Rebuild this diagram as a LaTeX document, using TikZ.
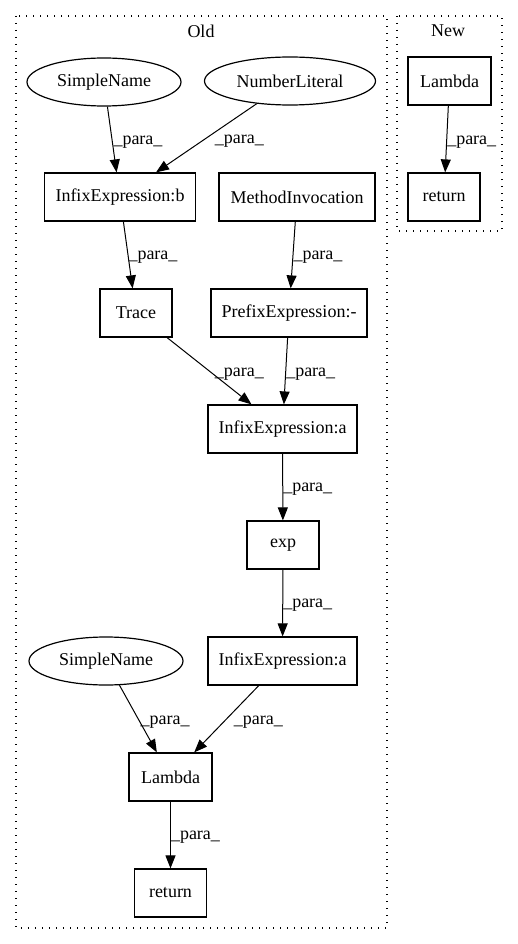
\documentclass[tikz,border=0pt]{standalone}
\usepackage{fontspec}
\setmainfont{Liberation Serif}
\usetikzlibrary{shapes.geometric,arrows.meta}
\begin{document}
\begin{tikzpicture}[x=1pt,y=-1pt,
  box/.style={draw,line width=1.2pt,rectangle,minimum height=48pt,inner sep=0pt,font=\fontsize{18}{20}\selectfont},
  ell/.style={draw,line width=1.2pt,ellipse,minimum height=48pt,inner sep=0pt,font=\fontsize{18}{20}\selectfont},
  cluster/.style={draw,line width=1.2pt,dash pattern=on 1.4pt off 5.6pt},
  ctitle/.style={font=\fontsize{18}{20}\selectfont,inner sep=0pt},
  lbl/.style={font=\fontsize{18}{20}\selectfont,inner sep=0pt,anchor=west,pos=0.5},
  arr/.style={line width=1pt,-{Triangle[length=13pt,width=10pt]}}]
\useasboundingbox (0,0) rectangle (517,944);
% clusters
\draw[cluster] (16,16) rectangle (387,928);
\draw[cluster] (397,16) rectangle (502,231);
\node[ctitle] (tOld) at (201,31) {Old};
\node[ctitle] (tNew) at (448,31) {New};
% Old nodes
\node[ell,minimum width=154pt] (sn1) at (104,82) {SimpleName};
\node[ell,minimum width=171pt] (nl) at (290,81) {NumberLiteral};
\node[box,minimum width=151pt] (ib) at (120,197) {InfixExpression:b};
\node[box,minimum width=156pt] (mi) at (297,197) {MethodInvocation};
\node[box,minimum width=72pt] (tr) at (136,313) {Trace};
\node[box,minimum width=156pt] (pe) at (289,313) {PrefixExpression:-};
\node[box,minimum width=149pt] (ia1) at (282.5,429) {InfixExpression:a};
\node[box,minimum width=72pt] (ex) at (283,545) {exp};
\node[box,minimum width=149pt] (ia2) at (282.5,661) {InfixExpression:a};
\node[ell,minimum width=154pt] (sn2) at (106,661) {SimpleName};
\node[box,minimum width=83pt] (la) at (170.5,777) {Lambda};
\node[box,minimum width=72pt] (re) at (170.5,893) {return};
% New nodes
\node[box,minimum width=83pt] (nla) at (449.5,81) {Lambda};
\node[box,minimum width=72pt] (nre) at (444,197) {return};
% edges
\draw[arr] (sn1) -- node[lbl,xshift=1pt,yshift=-3pt] {\_para\_} (ib);
\draw[arr] (nl) -- node[lbl,xshift=8pt,yshift=-3pt] {\_para\_} (ib);
\draw[arr] (ib) -- node[lbl,yshift=-2pt] {\_para\_} (tr);
\draw[arr] (mi) -- node[lbl,yshift=-2pt] {\_para\_} (pe);
\draw[arr] (tr) -- node[lbl,xshift=5pt,yshift=-3pt] {\_para\_} (ia1);
\draw[arr] (pe) -- node[lbl,yshift=-3pt] {\_para\_} (ia1);
\draw[arr] (ia1) -- node[lbl,yshift=-2pt] {\_para\_} (ex);
\draw[arr] (ex) -- node[lbl,yshift=-2pt] {\_para\_} (ia2);
\draw[arr] (sn2) -- node[lbl,xshift=2pt,yshift=-3pt] {\_para\_} (la);
\draw[arr] (ia2) -- node[lbl,xshift=7pt,yshift=-3pt] {\_para\_} (la);
\draw[arr] (la) -- node[lbl,yshift=-2pt] {\_para\_} (re);
\draw[arr] (nla) -- node[lbl,yshift=-3pt] {\_para\_} (nre);
\end{tikzpicture}
\end{document}
